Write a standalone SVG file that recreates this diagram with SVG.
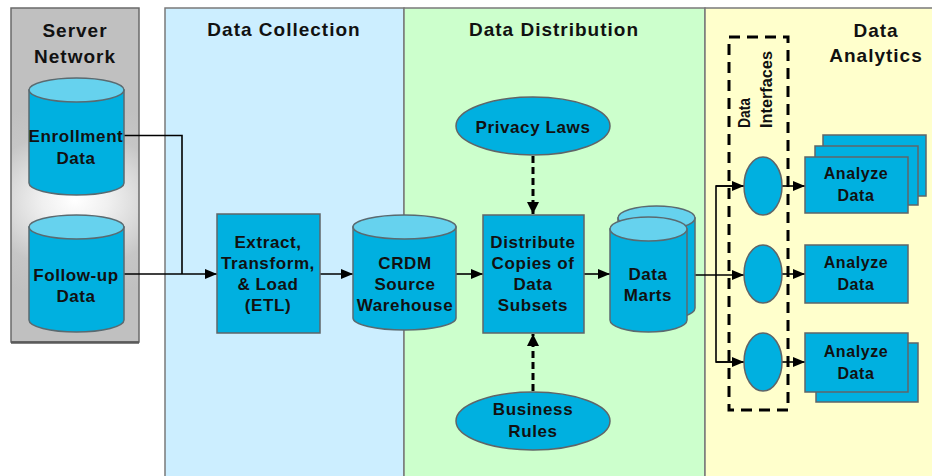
<svg xmlns="http://www.w3.org/2000/svg" width="932" height="476" viewBox="0 0 932 476">
<defs>
<radialGradient id="glow" gradientUnits="userSpaceOnUse" cx="75" cy="200" r="110" gradientTransform="translate(75 200) scale(1.2 0.9) translate(-75 -200)">
<stop offset="0" stop-color="#ffffff"/>
<stop offset="0.25" stop-color="#f0f0f0"/>
<stop offset="0.7" stop-color="#c6c6c6"/>
<stop offset="1" stop-color="#c0c0c0"/>
</radialGradient>
<marker id="arr" markerUnits="userSpaceOnUse" markerWidth="12" markerHeight="10" viewBox="0 0 12 10" refX="12" refY="5" orient="auto">
<path d="M0,0 L12,5 L0,10 Z" fill="#000"/>
</marker>
<marker id="arrD" markerUnits="userSpaceOnUse" markerWidth="12" markerHeight="12" viewBox="0 0 12 12" refX="12" refY="6" orient="auto">
<path d="M0,0 L12,6 L0,12 Z" fill="#000"/>
</marker>
</defs>
<style>
.panel{stroke:#7a7a7a;stroke-width:1.5}
.title{font-family:"Liberation Sans",Arial,sans-serif;font-weight:bold;font-size:19px;letter-spacing:1px;fill:#111;text-anchor:middle}
.lbl{font-family:"Liberation Sans",Arial,sans-serif;font-weight:bold;font-size:17px;letter-spacing:0.6px;fill:#111;text-anchor:middle}
.sm{font-family:"Liberation Sans",Arial,sans-serif;font-weight:bold;font-size:16px;letter-spacing:0.6px;fill:#111;text-anchor:middle}
.rot{font-family:"Liberation Sans",Arial,sans-serif;font-weight:bold;font-size:16px;fill:#111}
.body{fill:#00b0e0;stroke:#5a6a70;stroke-width:1.5}
.top{fill:#66d2ee;stroke:#5a6a70;stroke-width:1.5}
.box{fill:#00b0e0;stroke:#5f6568;stroke-width:1.5}
.line{fill:none;stroke:#000;stroke-width:1.6}
.dash{fill:none;stroke:#000;stroke-width:3;stroke-dasharray:7 4}
.frame{fill:none;stroke:#000;stroke-width:3;stroke-dasharray:11 7}
</style>

<g id="panels">
<rect x="165" y="8" width="239" height="472" fill="#cceeff" class="panel"/>
<rect x="404" y="8" width="301" height="472" fill="#ccffcc" class="panel"/>
<rect x="705" y="8" width="230" height="472" fill="#ffffcc" class="panel"/>
<text class="title" x="284" y="36">Data Collection</text>
<text class="title" x="554" y="36">Data Distribution</text>
<text class="title" x="876" y="37">Data</text>
<text class="title" x="876" y="62">Analytics</text>
</g>

<g id="server-network">
<rect x="11" y="8" width="128" height="334" fill="url(#glow)" stroke="#6a6a6a" stroke-width="1.5"/>
<line x1="11" y1="342.5" x2="139" y2="342.5" stroke="#5a5a5a" stroke-width="2.5"/>
<text class="title" x="75" y="37">Server</text>
<text class="title" x="75" y="63">Network</text>
</g>

<g id="connectors">
<polyline class="line" points="124,135.5 182,135.5 182,274"/>
<line class="line" x1="124" y1="274" x2="217" y2="274" marker-end="url(#arr)"/>
<line class="line" x1="320" y1="274" x2="353" y2="274" marker-end="url(#arr)"/>
<line class="line" x1="456" y1="274" x2="483" y2="274" marker-end="url(#arr)"/>
<line class="line" x1="584" y1="274" x2="610" y2="274" marker-end="url(#arr)"/>
<line class="dash" x1="533" y1="156" x2="533" y2="214" marker-end="url(#arrD)"/>
<line class="dash" x1="533" y1="391" x2="533" y2="334" marker-end="url(#arrD)"/>
<line class="line" x1="687" y1="275" x2="744" y2="275" marker-end="url(#arr)"/>
<polyline class="line" points="744,186 716,186 716,362 744,362"/>
<line class="line" x1="716" y1="186" x2="744" y2="186" marker-end="url(#arr)"/>
<line class="line" x1="716" y1="362" x2="744" y2="362" marker-end="url(#arr)"/>
<line class="line" x1="782" y1="186" x2="805" y2="186" marker-end="url(#arr)"/>
<line class="line" x1="782" y1="274" x2="805" y2="274" marker-end="url(#arr)"/>
<line class="line" x1="782" y1="362" x2="805" y2="362" marker-end="url(#arr)"/>
</g>

<g id="enrollment-data">
<path class="body" d="M29,90 L29,183 A47.5,12 0 0 0 124,183 L124,90 Z"/>
<ellipse class="top" cx="76.5" cy="90" rx="47.5" ry="12"/>
<text class="lbl" x="76" y="142">Enrollment</text>
<text class="lbl" x="76" y="164">Data</text>
</g>

<g id="follow-up-data">
<path class="body" d="M29,227 L29,320 A47.5,12 0 0 0 124,320 L124,227 Z"/>
<ellipse class="top" cx="76.5" cy="227" rx="47.5" ry="12"/>
<text class="lbl" x="76" y="281">Follow-up</text>
<text class="lbl" x="76" y="302">Data</text>
</g>

<g id="etl">
<rect class="box" x="217" y="214" width="103" height="119"/>
<text class="lbl" x="268" y="248">Extract,</text>
<text class="lbl" x="268" y="269">Transform,</text>
<text class="lbl" x="268" y="290">&amp; Load</text>
<text class="lbl" x="268" y="311">(ETL)</text>
</g>

<g id="crdm-warehouse">
<path class="body" d="M353,227 L353,318 A51.5,12 0 0 0 456,318 L456,227 Z"/>
<ellipse class="top" cx="404.5" cy="227" rx="51.5" ry="12"/>
<text class="lbl" x="405" y="269">CRDM</text>
<text class="lbl" x="405" y="290">Source</text>
<text class="lbl" x="405" y="311">Warehouse</text>
</g>

<g id="privacy-laws">
<ellipse class="box" cx="533" cy="126" rx="77" ry="29"/>
<text class="lbl" x="533" y="133">Privacy Laws</text>
</g>

<g id="distribute">
<rect class="box" x="483" y="215" width="101" height="118"/>
<text class="lbl" x="533" y="248">Distribute</text>
<text class="lbl" x="533" y="269">Copies of</text>
<text class="lbl" x="533" y="290">Data</text>
<text class="lbl" x="533" y="311">Subsets</text>
</g>

<g id="business-rules">
<ellipse class="box" cx="533" cy="421" rx="77" ry="29"/>
<text class="lbl" x="533" y="415">Business</text>
<text class="lbl" x="533" y="437">Rules</text>
</g>

<g id="data-marts">
<path class="body" d="M618,218 L618,308 A38.5,12 0 0 0 695,308 L695,218 Z"/>
<ellipse class="top" cx="656.5" cy="218" rx="38.5" ry="12"/>
<path class="body" d="M610,229 L610,320 A38.5,12 0 0 0 687,320 L687,229 Z"/>
<ellipse class="top" cx="648.5" cy="229" rx="38.5" ry="12"/>
<text class="lbl" x="648" y="280">Data</text>
<text class="lbl" x="648" y="301">Marts</text>
</g>

<g id="data-interfaces">
<rect class="frame" x="729" y="37" width="59" height="373"/>
<text class="rot" transform="translate(750 128) rotate(-90)" textLength="30" lengthAdjust="spacingAndGlyphs">Data</text>
<text class="rot" transform="translate(772 128) rotate(-90)" textLength="77" lengthAdjust="spacingAndGlyphs">Interfaces</text>
</g>

<g id="interface-1"><ellipse class="box" cx="763" cy="186" rx="19" ry="29"/></g>
<g id="interface-2"><ellipse class="box" cx="763" cy="274" rx="19" ry="29"/></g>
<g id="interface-3"><ellipse class="box" cx="763" cy="362" rx="19" ry="29"/></g>

<g id="analyze-1">
<rect class="box" x="823" y="135" width="103" height="61"/>
<rect class="box" x="815" y="146" width="103" height="59"/>
<rect class="box" x="805" y="157" width="103" height="56"/>
<text class="sm" x="856" y="179">Analyze</text>
<text class="sm" x="856" y="201">Data</text>
</g>

<g id="analyze-2">
<rect class="box" x="805" y="245" width="103" height="58"/>
<text class="sm" x="856" y="268">Analyze</text>
<text class="sm" x="856" y="290">Data</text>
</g>

<g id="analyze-3">
<rect class="box" x="816" y="343" width="102" height="59"/>
<rect class="box" x="805" y="333" width="103" height="59"/>
<text class="sm" x="856" y="357">Analyze</text>
<text class="sm" x="856" y="379">Data</text>
</g>
</svg>
